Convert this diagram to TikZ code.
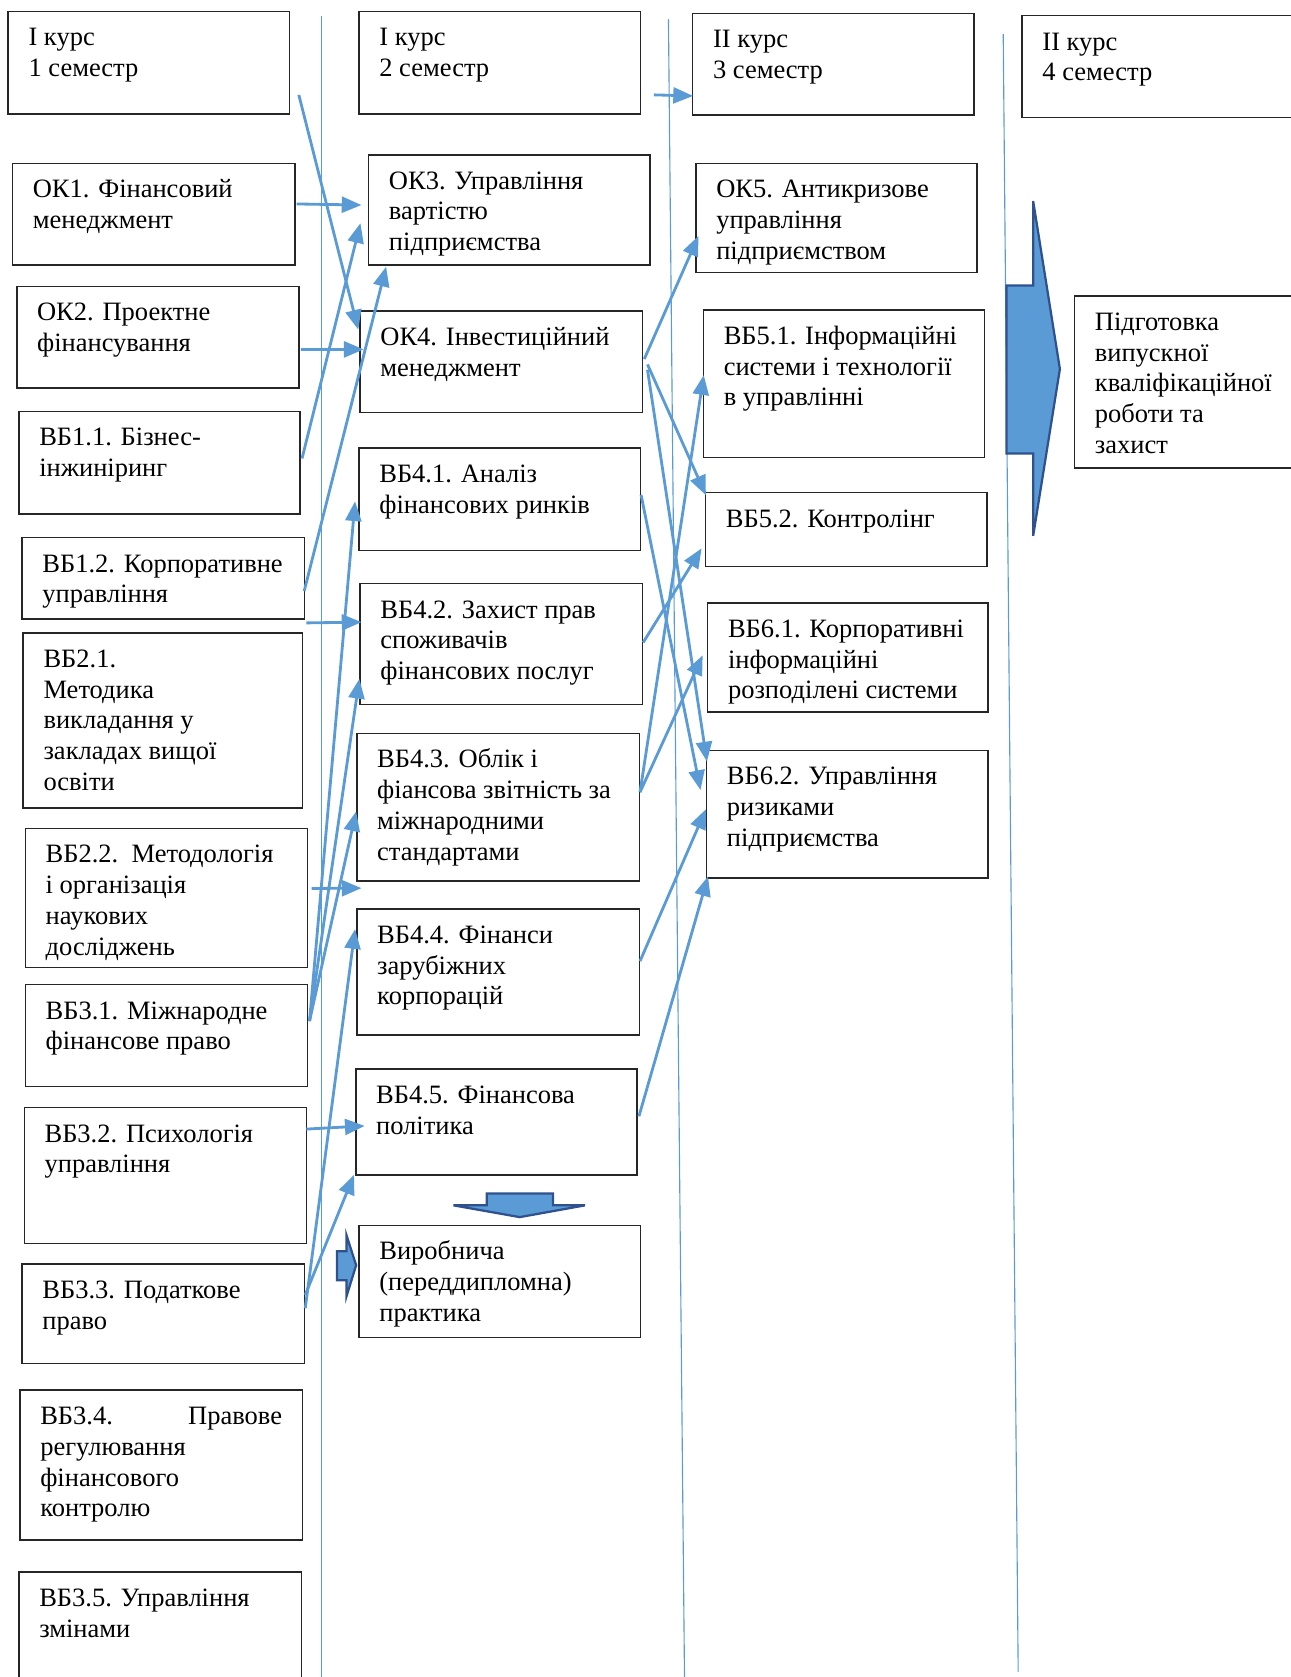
\documentclass[tikz,border=0pt]{standalone}
\usepackage{fontspec}
\setmainfont{Liberation Serif}
\usetikzlibrary{arrows.meta}

\definecolor{lineblue}{RGB}{91,155,213}
\definecolor{arrowedge}{RGB}{47,82,143}

\newdimen\px \px=0.02cm
% box text: width, height, lines
\newcommand{\cell}[3]{\parbox[c][#2\px][t]{#1\px}{\vspace*{12\px}\hspace*{19\px}\begin{tabular}[t]{@{}l@{}}#3\end{tabular}}}

\begin{document}
\begin{tikzpicture}[x=0.02cm, y=-0.02cm,
	font=\fontsize{14.1pt}{16.4pt}\selectfont,
	box/.style={draw=black!85, line width=0.8pt, anchor=north west, inner sep=0pt},
	link/.style={draw=lineblue, line width=1.5pt, -{Triangle[length=10.5pt,width=8.5pt]}},
	divider/.style={draw=lineblue, line width=0.6pt},
	bigarrow/.style={fill=lineblue, draw=arrowedge, line width=1.2pt, line join=miter}]
	
	\useasboundingbox (0,0) rectangle (1207,1568);
	
	\draw[divider] (301,15) -- (301,1568);
	\draw[divider] (625,18) -- (640,1568);
	\draw[divider] (938,32) -- (952,1563);
	
	% 1 semester
	\node[box] (h1)   at (7,10)     {\cell{263}{96}{I курс\\1 семестр}};
	\node[box] (ok1)  at (11,152)   {\cell{264}{95}{ОК1. Фінансовий\\менеджмент}};
	\node[box] (ok2)  at (15,267)   {\cell{264}{95}{ОК2. Проектне\\фінансування}};
	\node[box] (vb11) at (17,384)   {\cell{263}{96}{ВБ1.1. Бізнес-\\інжиніринг}};
	\node[box] (vb12) at (20,502)   {\cell{264}{76}{ВБ1.2. Корпоративне\\управління}};
	\node[box] (vb21) at (21,591)   {\cell{261}{164}{ВБ2.1.\\Методика\\викладання у\\закладах вищої\\освіти}};
	\node[box] (vb22) at (23,774)   {\cell{264}{130}{ВБ2.2.\ \ Методологія\\і організація\\наукових\\досліджень}};
	\node[box] (vb31) at (23,920)   {\cell{264}{95}{ВБ3.1. Міжнародне\\фінансове право}};
	\node[box] (vb32) at (22,1035)  {\cell{264}{127}{ВБ3.2. Психологія\\управління}};
	\node[box] (vb33) at (20,1181)  {\cell{264}{93}{ВБ3.3. Податкове\\право}};
	\node[box] (vb34) at (18,1299)  {\cell{264}{140}{\makebox[226\px]{ВБ3.4.\hfill Правове}\\регулювання\\фінансового\\контролю}};
	\node[box] (vb35) at (17,1469)  {\cell{264}{115}{ВБ3.5. Управління\\змінами}};
	
	% 2 semester
	\node[box] (h2)   at (335,10)   {\cell{263}{96}{I курс\\2 семестр}};
	\node[box] (ok3)  at (344,144)  {\cell{263}{103}{ОК3. Управління\\вартістю\\підприємства}};
	\node[box] (ok4)  at (336,290)  {\cell{264}{95}{ОК4. Інвестиційний\\менеджмент}};
	\node[box] (vb41) at (335,418)  {\cell{263}{96}{ВБ4.1. Аналіз\\фінансових ринків}};
	\node[box] (vb42) at (336,545)  {\cell{264}{113}{ВБ4.2. Захист прав\\споживачів\\фінансових послуг}};
	\node[box] (vb43) at (333,685)  {\cell{264}{138}{ВБ4.3. Облік і\\фіансова звітність за\\міжнародними\\стандартами}};
	\node[box] (vb44) at (333,849)  {\cell{264}{118}{ВБ4.4. Фінанси\\зарубіжних\\корпорацій}};
	\node[box] (vb45) at (332,999)  {\cell{263}{99}{ВБ4.5. Фінансова\\політика}};
	\node[box] (prak) at (335,1145) {\cell{263}{105}{Виробнича\\(переддипломна)\\практика}};
	
	% 3 semester
	\node[box] (h3)   at (647,12)   {\cell{263}{95}{II курс\\3 семестр}};
	\node[box] (ok5)  at (650,152)  {\cell{263}{102}{ОК5. Антикризове\\управління\\підприємством}};
	\node[box] (vb51) at (657,289)  {\cell{263}{138}{ВБ5.1. Інформаційні\\системи і технології\\в управлінні}};
	\node[box] (vb52) at (659,460)  {\cell{263}{69}{ВБ5.2. Контролінг}};
	\node[box] (vb61) at (661,563)  {\cell{262}{102}{ВБ6.1. Корпоративні\\інформаційні\\розподілені системи}};
	\node[box] (vb62) at (660,701)  {\cell{263}{119}{ВБ6.2. Управління\\ризиками\\підприємства}};
	
	% 4 semester
	\node[box] (h4)   at (955,14)   {\cell{262}{95}{II курс\\4 семестр}};
	\node[box] (fin)  at (1004,276) {\cell{215}{161}{Підготовка\\випускної\\кваліфікаційної\\роботи та\\захист}};
	
	\draw[bigarrow] (941,267) -- (966,267) -- (966,188) -- (991,345) -- (966,501) -- (966,424) -- (941,424) -- cycle;
	\draw[bigarrow] (455,1116) -- (517,1116) -- (517,1127) -- (547,1127) -- (486,1138) -- (424,1127) -- (455,1127) -- cycle;
	\draw[bigarrow] (315,1170) -- (324,1170) -- (324,1155) -- (333,1183) -- (324,1212) -- (324,1197) -- (315,1197) -- cycle;
	
	\draw[link] ([shift={(8,30)}]h1.east) -- ([shift={(-1,-30)}]ok4.west);
	\draw[link] ([shift={(1,-9.5)}]ok1.east) -- ([shift={(-6,-4.5)}]ok3.west);
	\draw[link] ([shift={(1,11.5)}]ok2.east) -- ([shift={(4,-11.5)}]ok4.west);
	\draw[link] ([shift={(1,-4)}]vb11.east) -- ([shift={(-7,12.5)}]ok3.west);
	\draw[link] ([shift={(-1,12)}]vb12.east) -- ([shift={(17,1)}]ok3.south west);
	\draw[link] ([shift={(1,3)}]vb12.south east) -- ([shift={(2,-20.5)}]vb42.west);
	\draw[link] ([shift={(3,-9)}]vb22.east) -- ([shift={(5,6)}]vb43.south west);
	\draw[link] ([shift={(1,-13.5)}]vb31.east) -- ([shift={(-3,2)}]vb41.west);
	\draw[link] ([shift={(1,-13.5)}]vb31.east) -- ([shift={(0,32.5)}]vb42.west);
	\draw[link] ([shift={(1,-13.5)}]vb31.east) -- ([shift={(0,4)}]vb43.west);
	\draw[link] ([shift={(-1,-43.5)}]vb32.east) -- ([shift={(9,3.5)}]vb45.west);
	\draw[link] ([shift={(0,-17.5)}]vb33.east) -- ([shift={(-1,-1)}]vb45.south west);
	\draw[link] ([shift={(0,-5)}]vb33.east) -- ([shift={(-1,-40)}]vb44.west);
	
	\draw[link] ([shift={(12,30)}]h2.east) -- ([shift={(1,29.5)}]h3.west);
	\draw[link] ([shift={(1,-2.5)}]ok4.east) -- ([shift={(3,17)}]ok5.west);
	\draw[link] ([shift={(4,2.5)}]ok4.east) -- ([shift={(1,3)}]vb52.north west);
	\draw[link] ([shift={(4,7.5)}]ok4.east) -- ([shift={(1,11)}]vb62.north west);
	\draw[link] ([shift={(0,-4)}]vb41.east) -- ([shift={(-5,-22.5)}]vb62.west);
	\draw[link] ([shift={(0,-1.5)}]vb42.east) -- ([shift={(-3,17.5)}]vb52.west);
	\draw[link] ([shift={(0,-14)}]vb43.east) -- ([shift={(1,-8)}]vb51.west);
	\draw[link] ([shift={(0,-14)}]vb43.east) -- ([shift={(-4,-2)}]vb61.west);
	\draw[link] ([shift={(0,-10)}]vb44.east) -- ([shift={(0,-4.5)}]vb62.west);
	\draw[link] ([shift={(1,-5.5)}]vb45.east) -- ([shift={(2,-2)}]vb62.south west);
	
\end{tikzpicture}
\end{document}
